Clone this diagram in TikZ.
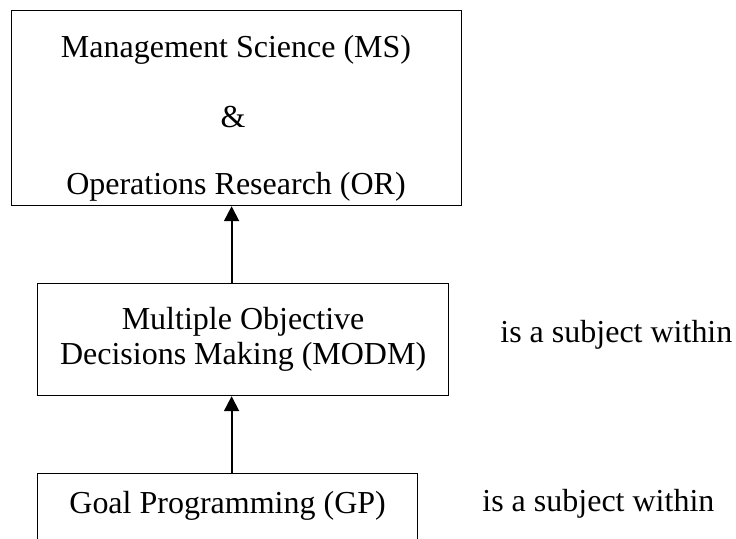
\documentclass[tikz,border=0pt]{standalone}
\usepackage{fontspec}
\setmainfont{Liberation Serif}
\usetikzlibrary{arrows.meta,positioning}
\tikzset{
  box/.style={draw,line width=0.6pt,align=center,inner sep=0pt},
  up/.style={-{Triangle[length=7.5pt,width=7.5pt]},line width=1pt},
}
\begin{document}
\begin{tikzpicture}[x=0.5pt,y=-0.5pt,font=\fontsize{16}{17.5}\selectfont,inner sep=0pt]
    \useasboundingbox (0,0) rectangle (736,539);

    \node[box,anchor=north west,minimum width=225pt,minimum height=97.5pt] (msor) at (11,10) {};
    \node[anchor=base] (ms)  at (236,58)  {Management Science (MS)};
    \node[anchor=base] (amp) at (233,128) {\&};
    \node[anchor=base] (or)  at (236,195) {Operations Research (OR)};

    \node[box,anchor=north west,minimum width=205.5pt,minimum height=56pt] (modm) at (37,283)
      {Multiple Objective\\Decisions Making (MODM)};
    \node[box,anchor=north west,minimum width=190pt,text height=20pt,text depth=15pt] (gp) at (37,473)
      {Goal Programming (GP)};

    \node[anchor=base west] (within1) at (500,343) {is a subject within};
    \node[anchor=base west] (within2) at (482,512) {is a subject within};

    \draw[up] ([xshift=-5.75pt]modm.north) coordinate (a1) -- (a1 |- msor.south);
    \draw[up] ([xshift=2pt]gp.north) coordinate (a2) -- (a2 |- modm.south);
  \end{tikzpicture}
\end{document}
